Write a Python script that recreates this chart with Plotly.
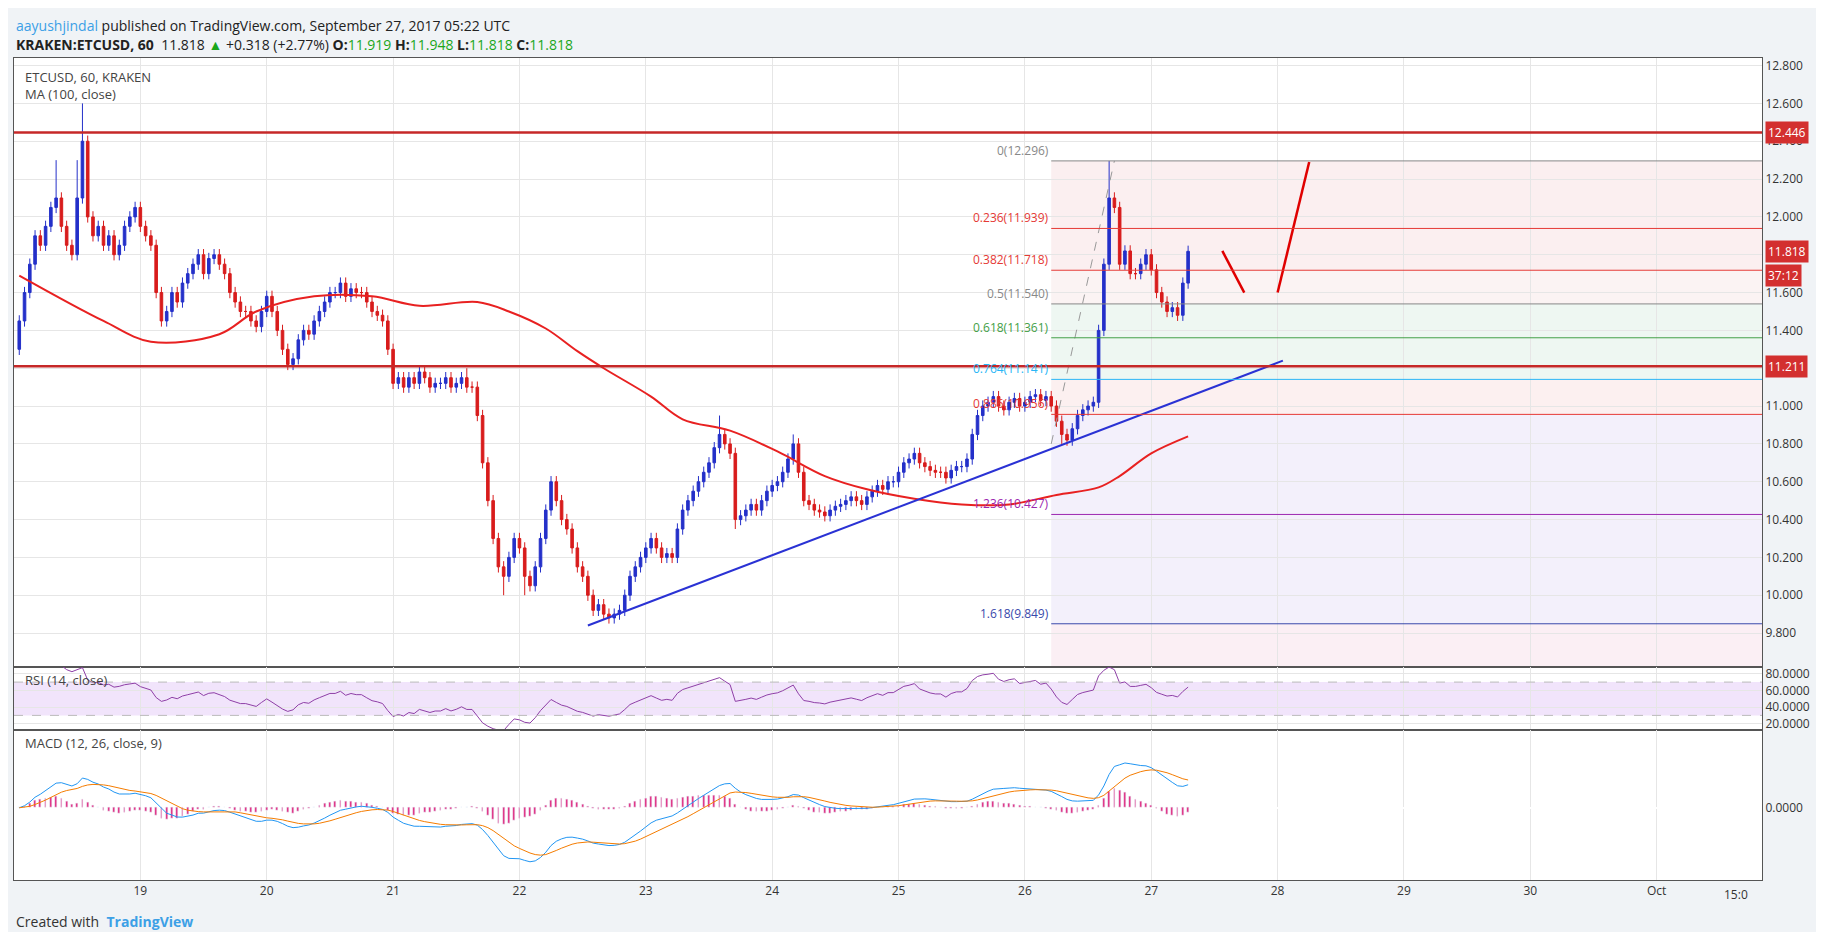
import pandas as pd
import plotly.graph_objects as go
from plotly.subplots import make_subplots

# hourly closes, KRAKEN:ETCUSD, from 2017-09-18 01:00
start = pd.Timestamp("2017-09-18 01:00")
closes = [
    11.45, 11.6, 11.75, 11.9, 11.85, 11.95, 12.05, 12.1, 11.95, 11.85,
    11.8, 12.1, 12.4, 12.0, 11.9, 11.95, 11.85, 11.9, 11.8, 11.85,
    11.95, 12.0, 12.05, 11.95, 11.9, 11.85, 11.6, 11.45, 11.5, 11.6,
    11.55, 11.65, 11.7, 11.75, 11.8, 11.7, 11.78, 11.8, 11.75, 11.7,
    11.6, 11.55, 11.5, 11.5, 11.45, 11.42, 11.5, 11.58, 11.5, 11.4,
    11.3, 11.22, 11.25, 11.35, 11.4, 11.38, 11.45, 11.5, 11.55, 11.6,
    11.6, 11.65, 11.58, 11.62, 11.6, 11.6, 11.55, 11.5, 11.48, 11.45,
    11.3, 11.12, 11.15, 11.1, 11.15, 11.12, 11.18, 11.15, 11.1, 11.12,
    11.12, 11.15, 11.1, 11.12, 11.15, 11.1, 11.1, 10.95, 10.7, 10.5,
    10.3, 10.15, 10.1, 10.2, 10.3, 10.25, 10.1, 10.05, 10.15, 10.3,
    10.45, 10.6, 10.5, 10.4, 10.35, 10.25, 10.15, 10.1, 10.0, 9.92,
    9.95, 9.9, 9.88, 9.9, 9.92, 10.0, 10.1, 10.15, 10.2, 10.25,
    10.3, 10.25, 10.2, 10.22, 10.2, 10.35, 10.45, 10.5, 10.55, 10.6,
    10.65, 10.7, 10.78, 10.85, 10.8, 10.75, 10.4, 10.42, 10.45, 10.48,
    10.45, 10.5, 10.55, 10.58, 10.6, 10.65, 10.72, 10.8, 10.65, 10.5,
    10.48, 10.45, 10.44, 10.42, 10.45, 10.47, 10.48, 10.5, 10.52, 10.5,
    10.48, 10.52, 10.55, 10.58, 10.56, 10.6, 10.6, 10.65, 10.7, 10.72,
    10.75, 10.7, 10.68, 10.66, 10.65, 10.65, 10.62, 10.66, 10.68, 10.68,
    10.72, 10.85, 10.95, 11.0, 11.02, 11.05, 11.0, 10.98, 11.02, 11.04,
    11.0, 11.02, 11.05, 11.06, 11.03, 11.05, 11.0, 10.92, 10.85, 10.82,
    10.88, 10.95, 10.98, 11.0, 11.02, 11.4, 11.75, 12.1, 12.05, 11.75,
    11.82, 11.7, 11.7, 11.75, 11.8, 11.72, 11.6, 11.55, 11.5, 11.52,
    11.48, 11.65, 11.818,
]
first_open = 11.3
# notable wicks (candle index -> extreme)
spike_highs = {12: 12.6, 11: 12.3, 7: 12.3, 133: 10.95, 147: 10.85, 207: 12.296, 85: 11.2}
spike_lows = {112: 9.85, 96: 10.0, 92: 10.0, 136: 10.35, 198: 10.8}

# MA(100): (hours from start, value)
ma_hours = [0, 16, 25, 38, 45, 56, 67, 76, 87, 93, 100, 106, 111, 120, 126, 135, 144, 153, 161, 170, 179, 188, 197, 205, 209, 215, 222]
ma_vals = [11.69, 11.45, 11.34, 11.38, 11.5, 11.58, 11.58, 11.53, 11.55, 11.5, 11.41, 11.29, 11.2, 11.05, 10.93, 10.87, 10.76, 10.63, 10.56, 10.51, 10.48, 10.48, 10.53, 10.57, 10.63, 10.75, 10.84]

fib_ratios = [0, 0.236, 0.382, 0.5, 0.618, 0.764, 0.886, 1.236, 1.618]
fib_prices = [12.296, 11.939, 11.718, 11.540, 11.361, 11.141, 10.956, 10.427, 9.849]
fib_colors = ["#888888", "#e53935", "#e53935", "#888888", "#43a047", "#29b6f6", "#e53935", "#9c27b0", "#3949ab"]
fib_fills = ["#fbeff0", "#fbeff0", "#fbf3f3", "#eef7f2", "#eef7f2", "#fcf0f0", "#f3f0fb", "#f3f0fb", "#fbeff4"]

resist_levels = [12.446, 11.211]
day_ticks = ["2017-09-%02d" % d for d in range(19, 31)] + ["2017-10-01"]
day_labels = [str(d) for d in range(19, 31)] + ["Oct"]

times = [start + pd.Timedelta(hours=i) for i in range(len(closes))]
opens = [first_open] + closes[:-1]
highs = [spike_highs.get(i, max(o, c) + 0.03) for i, (o, c) in enumerate(zip(opens, closes))]
lows = [spike_lows.get(i, min(o, c) - 0.03) for i, (o, c) in enumerate(zip(opens, closes))]
ma_times = [start + pd.Timedelta(hours=h) for h in ma_hours]

s = pd.Series(closes)
delta = s.diff()
gain = delta.clip(lower=0).ewm(alpha=1 / 14, adjust=False).mean()
loss = (-delta.clip(upper=0)).ewm(alpha=1 / 14, adjust=False).mean()
rsi = 100 - 100 / (1 + gain / loss)
macd = s.ewm(span=12, adjust=False).mean() - s.ewm(span=26, adjust=False).mean()
signal = macd.ewm(span=9, adjust=False).mean()
hist = macd - signal

fig = make_subplots(rows=3, cols=1, shared_xaxes=True, vertical_spacing=0,
                    row_heights=[0.741, 0.077, 0.182])

fib_x0 = pd.Timestamp("2017-09-26 05:00")
x_start = pd.Timestamp("2017-09-18 00:00")
x_end = pd.Timestamp("2017-10-01 20:00")
bounds = fib_prices + [9.62]
for i in range(len(fib_prices)):
    fig.add_shape(type="rect", x0=fib_x0, x1=x_end, y0=bounds[i + 1], y1=bounds[i],
                  fillcolor=fib_fills[i], line_width=0, layer="below", row=1, col=1)
for r, p, c in zip(fib_ratios, fib_prices, fib_colors):
    fig.add_shape(type="line", x0=fib_x0, x1=x_end, y0=p, y1=p, line=dict(color=c, width=1), row=1, col=1)
    fig.add_annotation(x=fib_x0, y=p, text=f"{r:g}({p:.3f})", showarrow=False, xanchor="right",
                       yanchor="bottom", font=dict(size=12, color=c), row=1, col=1)

for lv in resist_levels:
    fig.add_shape(type="line", x0=x_start, x1=x_end, y0=lv, y1=lv,
                  line=dict(color="#c62828", width=2.5), row=1, col=1)

fig.add_trace(go.Candlestick(
    x=times, open=opens, high=highs, low=lows, close=closes,
    increasing=dict(line=dict(color="#2430c9", width=1), fillcolor="#2430c9"),
    decreasing=dict(line=dict(color="#d81c1c", width=1), fillcolor="#d81c1c"),
    whiskerwidth=0, showlegend=False), row=1, col=1)
fig.add_trace(go.Scatter(x=ma_times, y=ma_vals, mode="lines", line=dict(color="#e82121", width=2, shape="spline"),
                         showlegend=False), row=1, col=1)

# trendline, fib swing and projected path
fig.add_trace(go.Scatter(x=[pd.Timestamp("2017-09-22 13:00"), pd.Timestamp("2017-09-28 01:00")], y=[9.84, 11.24],
                         mode="lines", line=dict(color="#2a32d4", width=2), showlegend=False), row=1, col=1)
fig.add_trace(go.Scatter(x=[pd.Timestamp("2017-09-26 05:00"), pd.Timestamp("2017-09-26 17:00")], y=[10.8, 12.296],
                         mode="lines", line=dict(color="#999999", width=1, dash="dash"), showlegend=False), row=1, col=1)
fig.add_trace(go.Scatter(x=[pd.Timestamp("2017-09-27 13:30"), pd.Timestamp("2017-09-27 17:40")], y=[11.82, 11.6],
                         mode="lines", line=dict(color="#e00000", width=2.5), showlegend=False), row=1, col=1)
fig.add_trace(go.Scatter(x=[pd.Timestamp("2017-09-28 00:00"), pd.Timestamp("2017-09-28 06:00")], y=[11.6, 12.29],
                         mode="lines", line=dict(color="#e00000", width=2.5), showlegend=False), row=1, col=1)

# RSI
fig.add_shape(type="rect", x0=x_start, x1=x_end, y0=30, y1=70,
              fillcolor="#f1e4fb", line_width=0, layer="below", row=2, col=1)
for lv in [30, 70]:
    fig.add_shape(type="line", x0=x_start, x1=x_end, y0=lv, y1=lv,
                  line=dict(color="#bbbbbb", width=1, dash="dash"), row=2, col=1)
fig.add_trace(go.Scatter(x=times, y=rsi, mode="lines", line=dict(color="#8e3fa6", width=1), showlegend=False), row=2, col=1)

# MACD
fig.add_trace(go.Bar(x=times, y=hist, marker_color="#e0217b", width=1200000, showlegend=False), row=3, col=1)
fig.add_trace(go.Scatter(x=times, y=macd, mode="lines", line=dict(color="#2196f3", width=1), showlegend=False), row=3, col=1)
fig.add_trace(go.Scatter(x=times, y=signal, mode="lines", line=dict(color="#f57c00", width=1), showlegend=False), row=3, col=1)

grid = "#e6e6e6"
for r in (1, 2, 3):
    fig.update_xaxes(range=[x_start, x_end], tickvals=day_ticks, ticktext=day_labels,
                     showgrid=True, gridcolor=grid, showline=True, linecolor="#555", mirror=True,
                     rangeslider_visible=False, showticklabels=(r == 3), ticks="", row=r, col=1)
fig.update_yaxes(side="right", range=[9.62, 12.84], tickvals=[9.8 + 0.2 * k for k in range(16)],
                 tickformat=".3f", gridcolor=grid, showline=True, linecolor="#555", mirror=True, row=1, col=1)
fig.update_yaxes(side="right", range=[12, 88], tickvals=[20, 40, 60, 80], tickformat=".4f",
                 gridcolor=grid, showline=True, linecolor="#555", mirror=True, row=2, col=1)
fig.update_yaxes(side="right", range=[-0.42, 0.45], tickvals=[0], tickformat=".4f",
                 gridcolor=grid, showline=True, linecolor="#555", mirror=True, row=3, col=1)

# price tags on the right axis
tags = [(12.446, "12.446"), (11.818, "11.818"), (11.211, "11.211")]
for p, t in tags:
    fig.add_annotation(x=1.002, xref="paper", y=p, yref="y", text=t, showarrow=False, xanchor="left",
                       bgcolor="#d32f2f", font=dict(color="white", size=12), borderpad=2)
fig.add_annotation(x=1.002, xref="paper", y=11.69, yref="y", text="37:12", showarrow=False, xanchor="left",
                   bgcolor="#d32f2f", font=dict(color="white", size=12), borderpad=2)
fig.add_annotation(x=pd.Timestamp("2017-10-01 15:00"), xref="x3", y=0, yref="paper", yanchor="top",
                   text="15:0", showarrow=False, font=dict(size=12, color="#333"), yshift=-4)

fig.add_annotation(x=0, xref="paper", y=1.002, yref="paper", yanchor="bottom", xanchor="left", showarrow=False,
                   text="<b>KRAKEN:ETCUSD, 60</b>  11.818 <span style='color:#1aa61a'>▲</span> +0.318 (+2.77%) "
                        "<b>O:</b><span style='color:#1aa61a'>11.919</span> <b>H:</b><span style='color:#1aa61a'>11.948</span> "
                        "<b>L:</b><span style='color:#1aa61a'>11.818</span> <b>C:</b><span style='color:#1aa61a'>11.818</span>",
                   font=dict(size=14, color="#222"))
fig.add_annotation(x=0, xref="paper", y=1.026, yref="paper", yanchor="bottom", xanchor="left", showarrow=False,
                   text="<span style='color:#3ca0e6'>aayushjindal</span> published on TradingView.com, September 27, 2017 05:22 UTC",
                   font=dict(size=14, color="#222"))
fig.add_annotation(x=0.005, xref="paper", y=0.99, yref="paper", yanchor="top", xanchor="left", showarrow=False, align="left",
                   text="ETCUSD, 60, KRAKEN<br>MA (100, close)", font=dict(size=13, color="#444"))
fig.add_annotation(x=0.005, xref="paper", y=0.257, yref="paper", yanchor="top", xanchor="left", showarrow=False,
                   text="RSI (14, close)", font=dict(size=13, color="#444"))
fig.add_annotation(x=0.005, xref="paper", y=0.180, yref="paper", yanchor="top", xanchor="left", showarrow=False,
                   text="MACD (12, 26, close, 9)", font=dict(size=13, color="#444"))
fig.add_annotation(x=0, xref="paper", y=-0.036, yref="paper", yanchor="top", xanchor="left", showarrow=False,
                   text="Created with  <b style='color:#3ca0e6'>TradingView</b>", font=dict(size=14, color="#333"))

fig.update_layout(
    width=1824, height=932, margin=dict(l=6, r=70, t=50, b=60),
    paper_bgcolor="#f0f3f6", plot_bgcolor="white", bargap=0,
    font=dict(family="Open Sans, Arial", size=12, color="#333"),
)
fig.write_html("out.html")
